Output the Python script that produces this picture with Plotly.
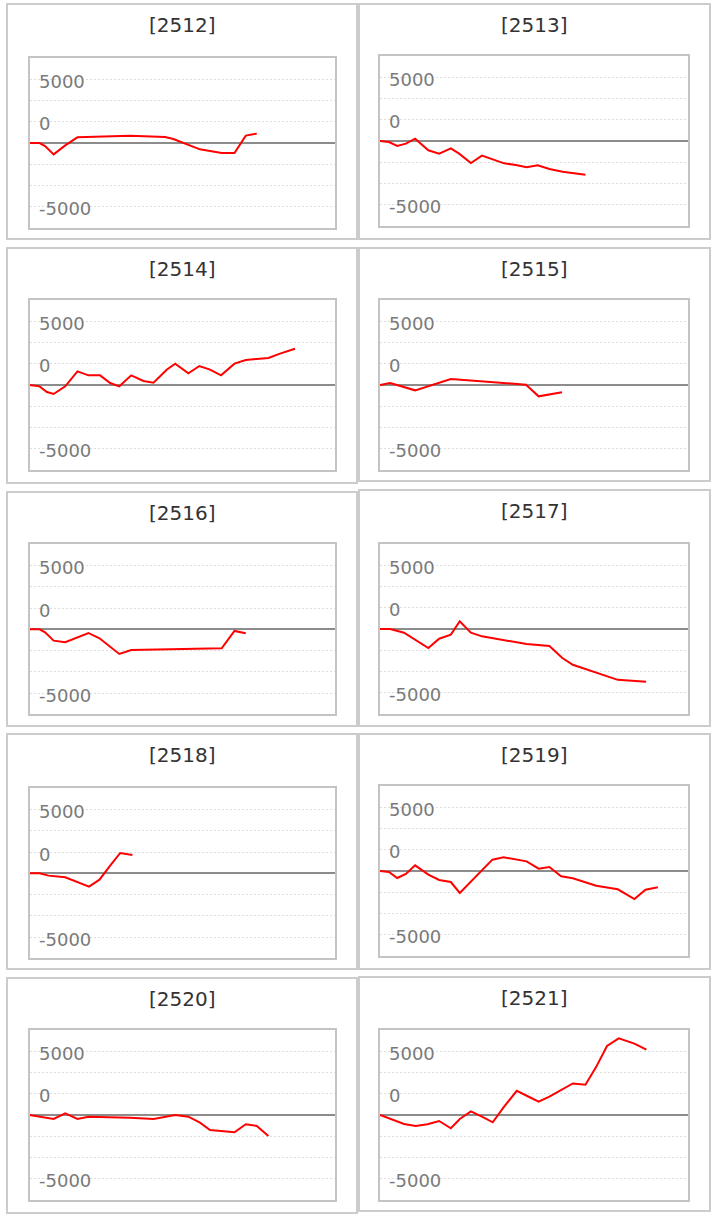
import plotly.graph_objects as go

# ---------------- data (x: position along period 0-100, y: P/L value) ----------------
codes = ["2512", "2513", "2514", "2515", "2516", "2517", "2518", "2519", "2520", "2521"]

x_2512 = [0, 3.3, 5.1, 7.9, 11.7, 15.7, 32.9, 44.4, 47.1, 51.5, 55.8, 62.9, 67.1, 70.8, 74.4]
y_2512 = [0, 0, -235, -889, -183, 444, 575, 470, 314, -105, -497, -784, -784, 575, 732]

x_2513 = [0, 2.9, 5.6, 8.4, 11.4, 15.7, 19.2, 23.0, 25.7, 29.5, 33.1, 36.6, 40.3, 44.1, 47.6, 51.2, 55.0, 59.3, 66.7]
y_2513 = [0, -78, -392, -209, 183, -732, -993, -575, -993, -1725, -1150, -1464, -1751, -1882, -2065, -1908, -2196, -2405, -2640]

x_2514 = [0, 3.3, 5.7, 7.9, 11.7, 15.7, 19.3, 23.1, 26.4, 29.4, 33.3, 37.3, 40.6, 44.9, 47.7, 52.0, 55.6, 59.1, 62.7, 67.1, 70.8, 74.4, 78.2, 82.0, 86.9]
y_2514 = [0, -105, -549, -706, -105, 1072, 758, 758, 157, -105, 758, 314, 183, 1202, 1673, 915, 1490, 1202, 758, 1673, 1961, 2013, 2118, 2457, 2849]

x_2515 = [0, 3.3, 11.4, 23.0, 47.4, 51.5, 59.1]
y_2515 = [0, 157, -418, 471, 26, -889, -575]

x_2516 = [0, 3.3, 5.1, 7.9, 11.7, 19.3, 22.9, 29.4, 33.3, 62.9, 67.1, 70.8]
y_2516 = [0, 0, -235, -889, -1019, -288, -706, -1934, -1621, -1490, -131, -314]

x_2517 = [0, 3.3, 7.8, 15.7, 19.2, 23.0, 25.9, 29.5, 33.1, 40.3, 47.6, 55.0, 59.1, 62.6, 70.2, 77.2, 86.4]
y_2517 = [0, 0, -288, -1490, -758, -444, 601, -288, -575, -889, -1176, -1333, -2248, -2797, -3398, -3973, -4130]

x_2518 = [0, 3.3, 6.2, 11.7, 19.5, 22.9, 26.4, 29.7, 33.7]
y_2518 = [0, 0, -183, -314, -1046, -497, 601, 1595, 1438]

x_2519 = [0, 2.9, 5.6, 8.4, 11.4, 15.7, 19.2, 23.0, 25.9, 29.5, 33.1, 36.5, 40.1, 43.9, 47.6, 51.5, 55.0, 58.8, 62.6, 70.2, 77.2, 82.6, 86.2, 90.2]
y_2519 = [0, -78, -549, -235, 444, -288, -706, -863, -1725, -810, 26, 889, 1072, 941, 758, 183, 314, -418, -575, -1150, -1438, -2196, -1464, -1281]

x_2520 = [0, 3.3, 7.9, 11.7, 15.7, 19.3, 32.9, 40.6, 44.4, 47.7, 52.0, 55.8, 59.1, 62.9, 67.1, 70.8, 74.4, 78.2]
y_2520 = [0, -131, -314, 131, -314, -131, -209, -314, -131, 0, -131, -601, -1176, -1255, -1359, -732, -863, -1647]

x_2521 = [0, 2.9, 7.8, 11.6, 15.4, 19.2, 23.0, 25.9, 29.5, 33.1, 36.6, 40.3, 44.4, 48.3, 51.5, 55.0, 58.8, 62.6, 66.7, 70.2, 73.7, 77.5, 82.6, 86.5]
y_2521 = [0, -261, -706, -863, -732, -471, -1046, -314, 288, -131, -575, 653, 1908, 1438, 1046, 1438, 1961, 2484, 2379, 3790, 5437, 6038, 5620, 5150]

series = {
    "2512": (x_2512, y_2512), "2513": (x_2513, y_2513), "2514": (x_2514, y_2514),
    "2515": (x_2515, y_2515), "2516": (x_2516, y_2516), "2517": (x_2517, y_2517),
    "2518": (x_2518, y_2518), "2519": (x_2519, y_2519), "2520": (x_2520, y_2520),
    "2521": (x_2521, y_2521),
}

ytick_vals = [5000, 5000 / 3, -5000]
ytick_text = ["5000", "0", "-5000"]
grid_vals = [5000, 10000 / 3, 5000 / 3, -5000 / 3, -10000 / 3, -5000]
y_range = [-20000 / 3, 20000 / 3]
x_range = [0, 100]

# ---------------- layout (pixels) ----------------
W, H = 718, 1220
boxes = [(7, 4, 357, 239), (359, 4, 710, 239),
         (7, 248, 357, 483), (359, 248, 710, 481),
         (7, 492, 357, 726), (359, 490, 710, 726),
         (7, 734, 357, 969), (359, 734, 710, 969),
         (7, 978, 357, 1213), (359, 977, 710, 1211)]
plots = [(29.5, 57.7, 335, 228.3), (380, 56, 688, 226),
         (29.5, 300, 335, 470), (380, 300, 688, 470),
         (29.5, 544.3, 335, 714.3), (380, 543.7, 688, 714.3),
         (29.5, 788.3, 335, 958.3), (380, 786, 688, 956),
         (29.5, 1030.3, 335, 1199.7), (380, 1030.3, 688, 1199.7)]

FONT = "DejaVu Sans"
fig = go.Figure()
shapes, annotations = [], []
layout = dict(width=W, height=H, autosize=False, margin=dict(l=0, r=0, t=0, b=0),
              paper_bgcolor="white", plot_bgcolor="white", showlegend=False)

def px(x):
    return x / W

def py(y):
    return 1 - y / H

for i, code in enumerate(codes):
    n = i + 1
    sfx = "" if n == 1 else str(n)
    bx0, by0, bx1, by1 = boxes[i]
    l, t, r, b = plots[i]
    xs, ys = series[code]
    fig.add_trace(go.Scatter(x=xs, y=ys, mode="lines", xaxis="x" + sfx, yaxis="y" + sfx,
                             line=dict(color="#ff0000", width=2), hoverinfo="skip"))
    layout["xaxis" + sfx] = dict(domain=[px(l), px(r)], range=x_range, anchor="y" + sfx,
                                 showgrid=False, zeroline=False, showticklabels=False, ticks="",
                                 showline=True, mirror=True, linecolor="#c4c4c4", linewidth=2,
                                 fixedrange=True)
    layout["yaxis" + sfx] = dict(domain=[py(b), py(t)], range=y_range, anchor="x" + sfx,
                                 tickmode="array", tickvals=grid_vals, showticklabels=False, ticks="",
                                 showgrid=True, gridcolor="#dedede", gridwidth=1, griddash="2px,2px",
                                 zeroline=True, zerolinecolor="#8c8c8c", zerolinewidth=2,
                                 showline=True, mirror=True, linecolor="#c4c4c4", linewidth=2,
                                 fixedrange=True)
    shapes.append(dict(type="rect", xref="paper", yref="paper",
                       x0=px(bx0), x1=px(bx1), y0=py(by1), y1=py(by0),
                       line=dict(color="#cccccc", width=2), fillcolor="rgba(0,0,0,0)"))
    annotations.append(dict(text="[" + code + "]", xref="paper", yref="paper",
                            x=px((bx0 + bx1) / 2), y=py(by0 + 21), xanchor="center", yanchor="middle",
                            showarrow=False, font=dict(family=FONT, size=20, color="#333333")))
    for v, txt in zip(ytick_vals, ytick_text):
        annotations.append(dict(text=txt, xref="paper", yref="y" + sfx,
                                x=px(l + 7), y=v, xanchor="left", yanchor="middle", yshift=-2,
                                showarrow=False, font=dict(family=FONT, size=18, color="#7a7a7a")))

layout["shapes"] = shapes
layout["annotations"] = annotations
fig.update_layout(**layout)
fig.write_html("out.html", config={"displayModeBar": False},
               post_script="document.body.style.margin='0';")
